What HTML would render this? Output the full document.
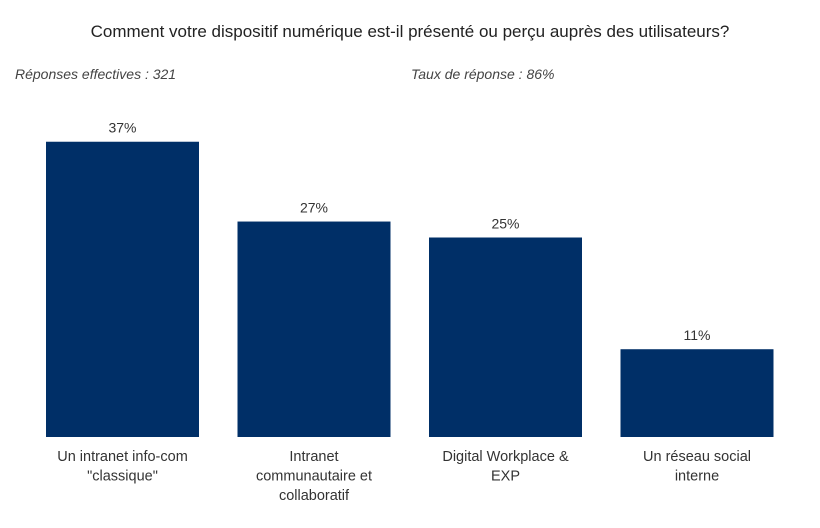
<!DOCTYPE html>
<html><head><meta charset="utf-8"><style>
body{margin:0;background:#fff;width:820px;height:523px;overflow:hidden;font-family:"Liberation Sans",sans-serif;}
</style></head><body>
<svg width="820" height="523">
<text x="410" y="37" text-anchor="middle" font-size="17" fill="#222">Comment votre dispositif numérique est-il présenté ou perçu auprès des utilisateurs?</text>
<text x="15" y="79" font-size="14" font-style="italic" fill="#444">Réponses effectives : 321</text>
<text x="411" y="79" font-size="14" font-style="italic" fill="#444">Taux de réponse : 86%</text>
<g id="bars"></g>
</svg>
<script>
const categories=[["Un intranet info-com","\"classique\""],["Intranet","communautaire et","collaboratif"],["Digital Workplace &","EXP"],["Un réseau social","interne"]];
const values=[37,27,25,11];
const g=document.getElementById('bars');
const ns='http://www.w3.org/2000/svg';
const base=437, pxPer=7.98, x0=46, step=191.5, bw=153;
const y=v=>base-v*pxPer;
values.forEach((v,i)=>{
  const x=x0+i*step;
  const r=document.createElementNS(ns,'rect');
  r.setAttribute('x',x);r.setAttribute('y',y(v));r.setAttribute('width',bw);r.setAttribute('height',base-y(v));r.setAttribute('fill','#002f67');
  
  
  g.appendChild(r);
  const t=document.createElementNS(ns,'text');
  t.setAttribute('x',x+bw/2);t.setAttribute('y',y(v)-9);t.setAttribute('text-anchor','middle');t.setAttribute('font-size','14');t.setAttribute('fill','#333');
  t.textContent=v+'%';
  
  
  g.appendChild(t);
  categories[i].forEach((line,j)=>{
    const c=document.createElementNS(ns,'text');
    c.setAttribute('x',x+bw/2);c.setAttribute('y',461+j*19.5);c.setAttribute('text-anchor','middle');c.setAttribute('font-size','14.5');c.setAttribute('fill','#333');
    c.textContent=line;
    
    
    g.appendChild(c);
  });
});
</script>
</body></html>
